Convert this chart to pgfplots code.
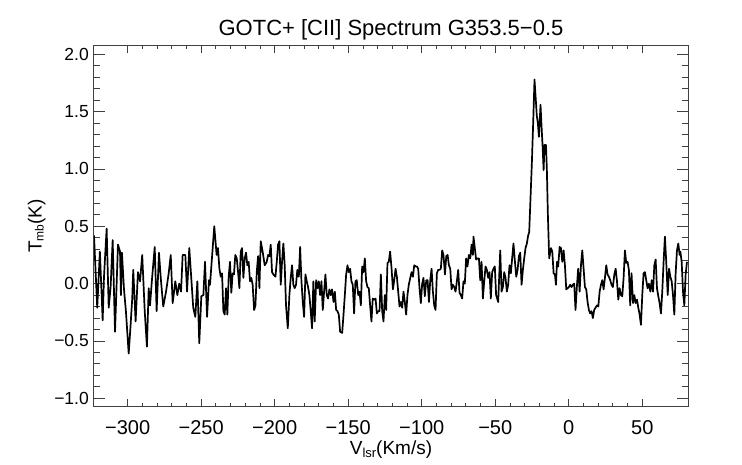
\documentclass[border=0pt]{standalone}
\usepackage{pgfplots}
\pgfplotsset{compat=1.18}
\usepackage{fontspec}
\setmainfont{Liberation Sans}
\begin{document}
\begin{tikzpicture}
\useasboundingbox (-94pt,-57.7pt) rectangle (648pt,406.3pt);
\begin{axis}[
  at={(0,0)}, anchor=south west,
  width=594pt, height=360.6pt, scale only axis,
  xmin=-322.9, xmax=81.1, ymin=-1.07, ymax=2.075,
  xtick=\empty,
  ytick={-1,-0.5,0,0.5,1,1.5,2},
  yticklabels={−1.0,−0.5,0.0,0.5,1.0,1.5,2.0},
  minor y tick num=4,
  major tick length=11pt, minor tick length=6pt,
  tick align=inside, ytick pos=both,
  tick style={color=black!75, line width=0.8pt},
  axis line style={black!75, line width=1pt},
  yticklabel style={font=\fontsize{17.5}{17.5}\selectfont, anchor=east, inner sep=0pt, xshift=-5pt},
  ylabel={T\raisebox{-2pt}{\fontsize{12}{12}\selectfont mb}(K)},
  ylabel style={font=\fontsize{19}{19}\selectfont, at={(axis description cs:-0.088,0.5)}, anchor=base, rotate=0},
  title={GOTC+ [CII] Spectrum G353.5−0.5},
  title style={font=\fontsize{22}{22}\selectfont, at={(axis description cs:0.5,1.011)}, anchor=base},
]
\addplot[black, line width=1.7pt, line join=round] table {
x y
-322.9 0.42
-320.7 -0.21
-318.9 0.28
-317.0 -0.32
-316.1 0.06
-314.3 0.48
-312.9 -0.21
-311.6 -0.03
-310.2 0.38
-308.6 -0.42
-306.6 0.34
-305.2 0.28
-304.6 -0.10
-303.9 0.27
-302.5 -0.05
-301.2 -0.24
-299.3 -0.61
-298.2 -0.40
-296.9 -0.13
-296.2 0.12
-294.6 -0.33
-293.0 0.10
-291.6 0.02
-290.1 0.25
-288.4 -0.24
-286.9 -0.55
-285.7 -0.04
-284.8 -0.19
-283.5 0.03
-281.6 0.32
-280.3 -0.24
-278.7 0.27
-277.5 0.05
-275.8 -0.20
-273.9 -0.07
-272.1 0.09
-270.7 0.25
-269.4 -0.17
-267.6 0.02
-266.2 -0.10
-264.9 0.00
-263.7 -0.07
-262.6 0.25
-260.8 0.25
-259.6 -0.07
-258.1 0.31
-255.4 -0.21
-254.0 -0.29
-252.6 0.02
-251.3 -0.52
-249.9 -0.11
-248.5 -0.10
-247.4 0.19
-246.0 -0.29
-244.7 0.03
-244.0 -0.01
-241.1 0.50
-239.5 0.25
-238.6 0.31
-237.6 0.13
-236.7 0.06
-235.8 0.09
-234.9 -0.24
-234.0 -0.27
-233.1 -0.04
-232.2 -0.27
-231.3 0.06
-230.4 0.19
-229.5 -0.08
-228.6 0.09
-227.7 0.08
-226.8 0.25
-225.8 0.22
-224.9 0.10
-224.0 -0.04
-223.1 0.28
-222.2 0.31
-221.3 0.05
-220.4 0.22
-219.5 0.27
-218.6 0.16
-217.7 0.19
-216.8 0.02
-215.9 0.05
-215.0 -0.01
-214.0 -0.23
-213.1 -0.19
-212.2 0.10
-211.3 0.24
-210.4 -0.04
-209.5 0.37
-208.2 0.28
-206.8 0.16
-205.4 0.19
-204.5 0.25
-203.6 0.24
-202.7 0.34
-201.8 0.10
-200.9 0.08
-199.5 0.06
-198.6 0.19
-197.7 0.34
-196.8 0.37
-195.9 -0.01
-195.0 0.19
-194.1 0.35
-193.2 0.16
-192.3 -0.19
-191.1 -0.39
-190.0 -0.10
-189.1 0.05
-188.2 0.16
-187.3 -0.01
-186.4 -0.04
-185.5 -0.01
-184.6 0.12
-183.6 0.06
-182.7 0.32
-181.8 0.02
-180.9 -0.16
-180.0 -0.29
-179.1 0.08
-178.2 0.02
-177.3 -0.03
-176.4 -0.10
-175.5 -0.24
-174.6 -0.39
-173.7 0.02
-172.8 -0.33
-171.8 0.03
-170.9 -0.04
-170.0 0.02
-169.1 -0.10
-168.2 0.02
-167.3 -0.23
-166.4 -0.07
-165.5 0.08
-164.6 -0.10
-163.7 -0.13
-162.8 -0.05
-161.9 -0.10
-161.0 -0.05
-160.0 -0.16
-159.1 -0.07
-158.2 -0.23
-157.3 -0.24
-156.4 -0.27
-155.5 -0.42
-154.1 -0.43
-153.2 -0.27
-152.3 -0.10
-151.4 0.08
-150.5 0.16
-149.6 0.10
-148.7 0.13
-147.8 0.02
-146.9 -0.01
-146.0 -0.26
-145.1 0.02
-144.2 0.03
-143.2 -0.10
-142.3 -0.07
-141.4 -0.19
-140.5 0.15
-139.6 0.10
-138.7 0.22
-137.8 0.02
-136.9 -0.03
-136.0 -0.04
-135.1 -0.19
-134.2 -0.33
-133.3 -0.13
-132.3 -0.14
-131.4 -0.13
-130.5 -0.26
-129.6 -0.24
-128.7 -0.24
-127.8 0.08
-126.9 -0.24
-126.0 -0.33
-125.1 -0.10
-124.2 -0.23
-123.3 0.18
-122.4 0.19
-121.5 0.28
-120.5 0.13
-119.6 -0.05
-118.7 0.03
-117.8 0.13
-116.9 0.06
-116.0 -0.07
-115.1 -0.20
-114.2 -0.16
-113.3 -0.21
-112.4 -0.07
-111.5 -0.16
-110.6 -0.27
-109.7 -0.10
-108.8 -0.01
-107.8 0.05
-106.9 0.10
-106.0 0.06
-105.1 0.16
-104.2 0.15
-103.3 0.15
-102.4 0.13
-101.5 -0.04
-100.6 -0.17
-99.7 0.00
-98.8 0.05
-97.9 -0.11
-96.9 0.03
-96.0 0.03
-95.1 -0.16
-94.2 0.03
-93.3 0.13
-92.4 -0.07
-91.5 -0.19
-90.6 -0.23
-89.7 0.09
-88.8 0.12
-87.9 0.12
-87.0 0.13
-86.1 0.29
-85.2 0.25
-84.2 0.08
-83.3 0.24
-82.4 0.25
-81.5 0.16
-80.6 0.13
-79.7 -0.05
-78.8 -0.01
-77.9 -0.03
-77.0 -0.07
-76.1 0.02
-75.2 0.12
-74.3 -0.08
-73.4 -0.10
-72.5 -0.13
-71.6 0.02
-70.7 0.00
-69.8 0.22
-68.9 0.15
-67.9 0.25
-67.0 0.22
-66.1 0.34
-65.2 0.25
-64.8 0.41
-63.9 0.31
-63.0 0.21
-62.1 0.22
-61.1 0.22
-60.2 0.03
-59.3 0.19
-58.4 -0.13
-57.5 0.02
-56.6 0.15
-55.7 0.12
-54.8 0.05
-53.9 0.10
-53.0 -0.13
-52.1 0.10
-51.2 0.13
-50.3 0.15
-49.4 -0.10
-48.0 -0.16
-46.6 0.29
-45.7 -0.07
-44.8 -0.03
-43.9 0.10
-43.0 0.05
-42.1 -0.07
-41.2 -0.01
-40.3 0.16
-39.4 0.09
-38.5 0.22
-37.6 0.35
-36.6 0.19
-35.7 0.06
-34.8 0.12
-33.9 0.24
-33.0 0.27
-32.1 -0.01
-31.2 0.12
-30.3 0.22
-29.4 0.31
-28.5 0.35
-27.6 0.42
-26.9 0.45
-26.0 0.75
-25.1 1.05
-24.2 1.40
-23.3 1.78
-22.5 1.62
-21.7 1.46
-21.0 1.40
-20.3 1.28
-19.2 1.56
-18.5 1.37
-17.8 1.20
-17.1 0.99
-16.5 1.21
-15.5 1.21
-14.9 1.00
-14.2 0.60
-13.3 0.22
-12.1 0.31
-11.2 0.28
-10.3 0.09
-9.4 0.08
-8.7 -0.01
-8.0 0.19
-7.2 0.15
-6.2 0.32
-5.3 0.31
-4.4 0.19
-3.5 0.29
-2.6 0.16
-1.7 -0.05
-0.8 -0.04
0.1 -0.03
1.0 -0.01
1.9 -0.03
2.8 -0.01
3.7 0.00
4.6 -0.23
5.5 -0.03
6.4 0.13
7.4 -0.07
8.3 0.16
9.2 0.29
10.1 0.13
11.0 -0.03
11.9 -0.05
12.8 -0.16
13.7 -0.23
14.6 -0.26
15.5 -0.24
16.4 -0.30
17.3 -0.23
18.2 -0.21
19.2 -0.19
20.1 -0.20
21.0 -0.07
21.9 -0.01
22.8 0.03
23.7 -0.05
24.6 0.05
25.5 0.16
26.4 0.08
27.3 0.06
28.2 0.03
29.1 -0.01
30.0 -0.03
31.0 0.08
31.9 0.13
32.8 0.02
33.7 -0.14
34.6 -0.04
35.5 -0.10
36.4 -0.11
37.3 0.05
38.2 0.29
39.1 0.18
40.0 0.19
40.9 0.12
41.8 -0.19
42.7 0.09
43.7 -0.17
44.6 -0.10
45.5 -0.17
46.4 -0.14
47.3 -0.21
48.2 -0.27
49.1 -0.36
50.0 -0.10
50.9 0.09
51.8 0.10
52.7 0.03
53.6 -0.04
54.5 0.00
55.5 -0.07
56.4 0.03
57.3 -0.07
58.2 0.16
59.1 0.21
60.0 -0.04
60.9 -0.11
61.8 -0.17
62.7 -0.26
63.6 -0.07
64.5 0.19
65.4 0.41
66.3 0.19
67.3 -0.10
68.2 0.13
69.1 0.06
70.0 0.02
70.9 -0.10
71.8 -0.27
72.7 0.09
73.6 0.29
74.5 0.35
75.4 0.25
75.9 0.28
76.8 0.19
77.7 -0.07
78.6 -0.19
79.5 0.08
80.4 0.19
};
\end{axis}
\begin{axis}[
  at={(0,0)}, anchor=south west,
  width=594pt, height=360.6pt, scale only axis,
  xmin=-322.9, xmax=81.1, ymin=-1.07, ymax=2.075,
  ytick=\empty,
  xtick={-300,-250,-200,-150,-100,-50,0,50},
  xticklabels={−300,−250,−200,−150,−100,−50,0,50},
  minor x tick num=4,
  major tick length=7pt, minor tick length=3.5pt,
  tick align=inside, xtick pos=both,
  tick style={color=black!75, line width=0.8pt},
  axis line style={black!75, line width=1pt},
  xticklabel style={font=\fontsize{20}{20}\selectfont, anchor=base, inner sep=0pt, yshift=-27.7pt},
  xlabel={V\raisebox{-2.5pt}{\fontsize{13}{13}\selectfont lsr}(Km/s)},
  xlabel style={font=\fontsize{19}{19}\selectfont, at={(axis description cs:0.5,-0.135)}, anchor=base},
]
\end{axis}
\end{tikzpicture}
\end{document}
